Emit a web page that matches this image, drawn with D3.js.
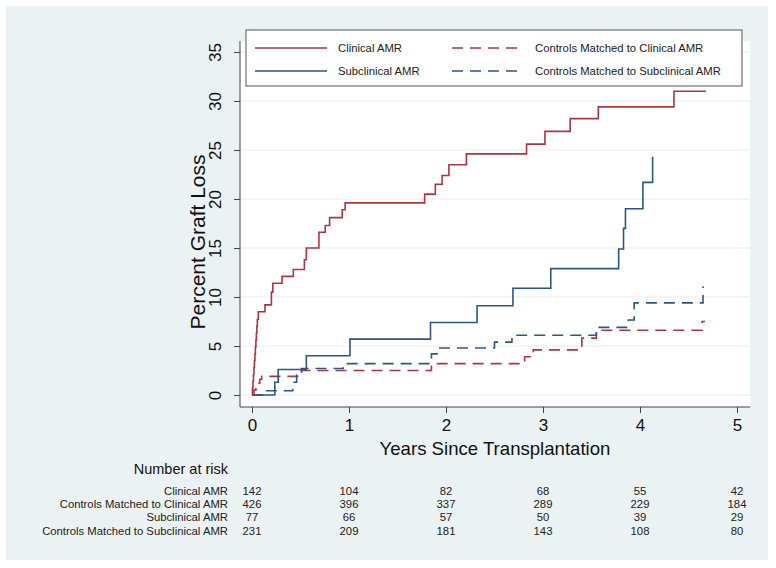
<!DOCTYPE html>
<html><head><meta charset="utf-8">
<script src="https://cdn.jsdelivr.net/npm/d3@7"></script>
<style>
html,body{margin:0;padding:0;background:#fff;}
svg{display:block;font-family:"Liberation Sans",Arial,Helvetica,sans-serif;}
</style></head>
<body>
<svg id="chart" width="776" height="568"></svg>
<script>
// ---- data ----
const seriesNames = ["Clinical AMR","Subclinical AMR","Controls Matched to Clinical AMR","Controls Matched to Subclinical AMR"];
const clinicalT = [0,0.005,0.01,0.015,0.02,0.025,0.03,0.035,0.04,0.045,0.05,0.055,0.065,0.134,0.20,0.215,0.31,0.426,0.54,0.56,0.69,0.755,0.80,0.93,0.96,1.78,1.89,1.96,2.03,2.21,2.83,3.02,3.28,3.57,4.35,4.68];
const clinicalV = [0,0.7,1.4,2.1,2.8,3.5,4.2,4.9,5.6,6.3,7.0,7.7,8.5,9.2,10.5,11.4,12.1,12.8,13.8,15.0,16.6,17.3,18.1,18.9,19.6,20.5,21.5,22.4,23.5,24.6,25.6,26.9,28.2,29.4,31.0,31.0];
const subT = [0,0.235,0.27,0.56,1.01,1.84,2.32,2.69,3.08,3.78,3.83,3.85,4.03,4.13];
const subV = [0,1.3,2.6,4.0,5.7,7.4,9.1,10.9,12.9,14.9,17.0,19.0,21.7,24.3];
const ctrlClinT = [0,0.02,0.04,0.06,0.08,0.10,0.51,1.85,2.81,2.90,3.40,3.55,4.64,4.67];
const ctrlClinV = [0,0.5,0.9,1.2,1.6,1.9,2.5,3.2,3.9,4.6,5.8,6.6,7.5,7.5];
const ctrlSubT = [0,0.15,0.42,0.46,0.51,0.94,1.85,1.92,2.50,2.68,3.55,3.88,3.94,4.65];
const ctrlSubV = [0,0.43,1.3,2.0,2.7,3.2,4.2,4.8,5.4,6.1,6.9,7.65,9.4,11.1];
const xTicks = [0,1,2,3,4,5];
const yTicks = [0,5,10,15,20,25,30,35];
const riskTimes = [0,1,2,3,4,5];
const riskClinical = [142,104,82,68,55,42];
const riskCtrlClinical = [426,396,337,289,229,184];
const riskSub = [77,66,57,50,39,29];
const riskCtrlSub = [231,209,181,143,108,80];

// ---- layout / style ----
const RED = "#b3343f", BLUE = "#2b5786";
const svg = d3.select("#chart");
const plot = {left:240, right:750, top:41, bottom:407};
const x = d3.scaleLinear().domain([0,5]).range([252,737]);
const y = d3.scaleLinear().domain([0,35]).range([395,52]);

// background panel
svg.append("rect").attr("x",6).attr("y",6).attr("width",762).attr("height",554).attr("fill","#eaf2f3");
svg.append("rect").attr("x",plot.left).attr("y",plot.top).attr("width",plot.right-plot.left).attr("height",plot.bottom-plot.top).attr("fill","#fff");

// grid
svg.append("g").selectAll("line").data(yTicks).join("line")
  .attr("x1",plot.left).attr("x2",plot.right)
  .attr("y1",d=>y(d)).attr("y2",d=>y(d))
  .attr("stroke","#e9ecec").attr("stroke-width",1.2);

// curves
const line = d3.line().x(d=>x(d[0])).y(d=>y(d[1])).curve(d3.curveStepAfter);
const curves = [
  {t:ctrlClinT, v:ctrlClinV, color:RED, dash:"11,7"},
  {t:ctrlSubT, v:ctrlSubV, color:BLUE, dash:"11,7"},
  {t:subT, v:subV, color:BLUE, dash:null},
  {t:clinicalT, v:clinicalV, color:RED, dash:null}
];
curves.forEach(c=>{
  const pts = c.t.map((t,i)=>[t,c.v[i]]);
  svg.append("path").attr("d",line(pts)).attr("fill","none")
    .attr("stroke",c.color).attr("stroke-width",1.6)
    .attr("stroke-dasharray",c.dash);
});

// axes
const yAxis = svg.append("g").attr("transform",`translate(${plot.left},0)`)
  .call(d3.axisLeft(y).tickValues(yTicks).tickFormat(d3.format("d")).tickSize(6).tickSizeOuter(0));
yAxis.select(".domain").remove();
yAxis.append("line").attr("x1",0).attr("x2",0).attr("y1",plot.top).attr("y2",plot.bottom).attr("stroke","#444");
yAxis.selectAll(".tick line").attr("stroke","#444");
yAxis.selectAll(".tick text").attr("transform","rotate(-90)").attr("x",0).attr("y",-19).attr("dy",0)
  .style("text-anchor","middle").attr("fill","#111").style("font-size","17px");

const xAxis = svg.append("g").attr("transform",`translate(0,${plot.bottom})`)
  .call(d3.axisBottom(x).tickValues(xTicks).tickFormat(d3.format("d")).tickSize(6).tickSizeOuter(0));
xAxis.select(".domain").remove();
xAxis.append("line").attr("x1",plot.left).attr("x2",plot.right).attr("y1",0).attr("y2",0).attr("stroke","#444");
xAxis.selectAll(".tick line").attr("stroke","#444");
xAxis.selectAll(".tick text").attr("y",24).attr("dy",0).attr("fill","#111").style("font-size","17px");

// axis titles
svg.append("text").attr("transform","translate(205,242) rotate(-90)").attr("text-anchor","middle")
  .style("font-size","21px").attr("fill","#111").text("Percent Graft Loss");
svg.append("text").attr("x",495).attr("y",455).attr("text-anchor","middle")
  .style("font-size","18.6px").attr("fill","#111").text("Years Since Transplantation");

// legend
const lg = svg.append("g");
lg.append("rect").attr("x",246).attr("y",30).attr("width",496).attr("height",56).attr("fill","#fff").attr("stroke","#555").attr("stroke-width",1);
const legendItems = [
  {name:seriesNames[0], color:RED, dash:null, lx:255, ty:48},
  {name:seriesNames[1], color:BLUE, dash:null, lx:255, ty:71},
  {name:seriesNames[2], color:RED, dash:"11,7", lx:452, ty:48},
  {name:seriesNames[3], color:BLUE, dash:"11,7", lx:452, ty:71}
];
legendItems.forEach(it=>{
  lg.append("line").attr("x1",it.lx).attr("x2",it.lx+72).attr("y1",it.ty).attr("y2",it.ty)
    .attr("stroke",it.color).attr("stroke-width",1.6).attr("stroke-dasharray",it.dash);
  lg.append("text").attr("x",it.lx+83).attr("y",it.ty+4).style("font-size","11.3px").attr("fill","#222").text(it.name);
});

// number at risk table
svg.append("text").attr("x",228).attr("y",474).attr("text-anchor","end").style("font-size","14.5px").attr("fill","#111").text("Number at risk");
const riskRows = [
  {label:seriesNames[0], vals:riskClinical},
  {label:seriesNames[2], vals:riskCtrlClinical},
  {label:seriesNames[1], vals:riskSub},
  {label:seriesNames[3], vals:riskCtrlSub}
];
riskRows.forEach((r,i)=>{
  const yy = 495 + i*13.2;
  svg.append("text").attr("x",228).attr("y",yy).attr("text-anchor","end").style("font-size","11.3px").attr("fill","#222").text(r.label);
  svg.append("g").selectAll("text").data(r.vals).join("text")
    .attr("x",(d,j)=>x(riskTimes[j])).attr("y",yy).attr("text-anchor","middle")
    .style("font-size","11.3px").attr("fill","#222").text(d=>d);
});
</script>
</body></html>
